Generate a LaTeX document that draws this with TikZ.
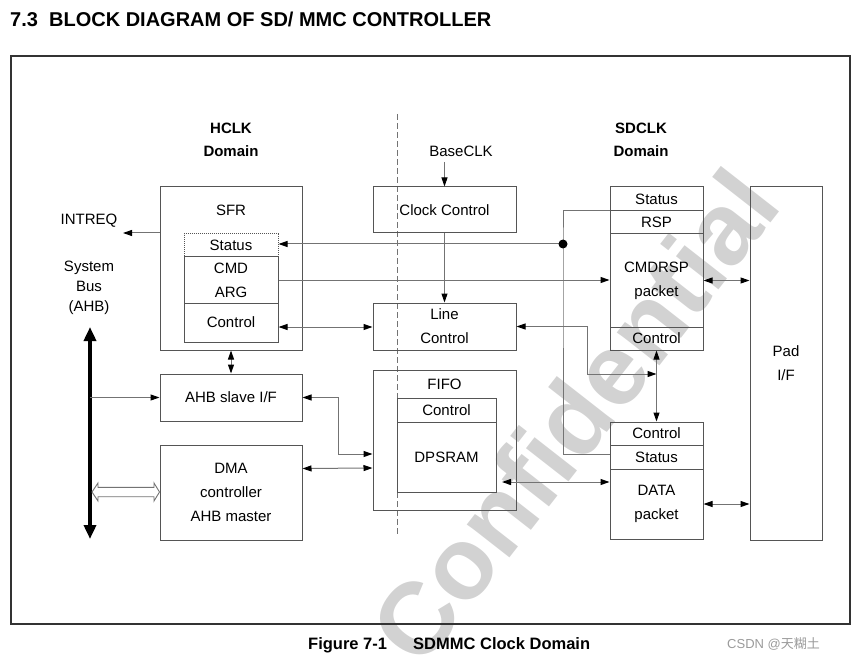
\documentclass[tikz,border=0pt]{standalone}
\usepackage{fontspec}
\setmainfont{Liberation Sans}
\newfontfamily\cjkfont{Noto Sans CJK SC}
\usetikzlibrary{arrows.meta,calc}
\definecolor{boxc}{HTML}{555555}
\definecolor{connc}{HTML}{737373}
\definecolor{wmark}{HTML}{D2D2D2}
\definecolor{csdn}{HTML}{9A9A9A}
\begin{document}
\begin{tikzpicture}[x=1pt,y=-1pt,
  >={Triangle[length=9pt,width=6pt,color=black]},
  box/.style={draw=boxc,line width=1pt,inner sep=0pt,align=center,font=\fontsize{15}{24}\selectfont},
  lbl/.style={inner sep=0pt,align=center,font=\fontsize{15}{24}\selectfont},
  hdr/.style={inner sep=0pt,align=center,font=\fontsize{15}{23}\selectfont\bfseries},
  conn/.style={draw=connc,line width=1pt},
  ]
\useasboundingbox (0,0) rectangle (856,660);

% watermark
\node[rotate=52,inner sep=0pt,text=wmark,font=\fontsize{102}{102}\selectfont\bfseries] (wm) at (574,416) {Confidential};

% title and caption
\node[anchor=base west,inner sep=0pt,font=\fontsize{20}{21}\selectfont\bfseries] (title) at (10,26.5) {7.3\ \ BLOCK DIAGRAM OF SD/ MMC CONTROLLER};
\node[anchor=base west,inner sep=0pt,font=\fontsize{16.5}{17}\selectfont\bfseries] (fig) at (308,649) {Figure 7-1};
\node[anchor=base west,inner sep=0pt,font=\fontsize{16.5}{17}\selectfont\bfseries] (cap) at (413,649) {SDMMC Clock Domain};
\node[anchor=base west,inner sep=0pt,text=csdn,font=\fontsize{13}{14}\selectfont] (csdn) at (727,648) {CSDN @{\cjkfont 天糊土}};

% frame
\node[draw=black!80,line width=1.2pt,minimum width=839pt,minimum height=568pt,inner sep=0pt] (frame) at (430.5,340) {};

% domain separator
\coordinate (dtop) at (397,114);
\coordinate (dbot) at (397,536);
\draw[connc,line width=0.9pt,dash pattern=on 6pt off 3pt] (dtop) -- (dbot);

% headers
\node[hdr] (hclk) at (231,139.5) {HCLK\\Domain};
\node[hdr] (sdclk) at (641,139.5) {SDCLK\\Domain};
\node[lbl] (baseclk) at (461,151) {BaseCLK};

% left labels
\node[lbl] (intreq) at (89,221) {INTREQ};
\node[inner sep=0pt,align=center,font=\fontsize{15}{20}\selectfont] (sysbus) at (89,288) {System\\Bus\\(AHB)};

% SFR
\node[box,minimum width=142pt,minimum height=163pt] (sfr) at (231,268.5) {};
\node[lbl] (sfrlbl) at (231,210) {SFR};
\node[box,densely dotted,minimum width=94pt,minimum height=23pt] (sfrstat) at (231,245.5) {Status};
\node[box,minimum width=94pt,minimum height=46pt] (sfrcmd) at (231,280) {CMD\\ARG};
\node[box,minimum width=94pt,minimum height=39pt] (sfrctl) at (231,322.5) {Control};

% AHB slave / DMA
\node[box,minimum width=142pt,minimum height=47pt] (ahb) at (231,397.5) {AHB slave I/F};
\node[box,minimum width=142pt,minimum height=95pt] (dma) at (231,492.5) {DMA\\controller\\AHB master};

% centre column
\node[box,minimum width=143pt,minimum height=46pt] (clk) at (444.5,210) {Clock Control};
\node[box,minimum width=143pt,minimum height=47pt] (line) at (444.5,326.5) {Line\\Control};
\node[box,minimum width=143pt,minimum height=140pt] (fifo) at (444.5,440) {};
\node[lbl] (fifolbl) at (444.5,384) {FIFO};
\node[box,minimum width=99pt,minimum height=24pt] (fifoctl) at (446.5,410) {Control};
\node[box,minimum width=99pt,minimum height=70pt] (dpsram) at (446.5,457) {DPSRAM};

% right column
\node[box,minimum width=93pt,minimum height=24pt] (cstat) at (656.5,199) {Status};
\node[box,minimum width=93pt,minimum height=23pt] (crsp) at (656.5,222.5) {RSP};
\node[box,minimum width=93pt,minimum height=93pt] (cpkt) at (656.5,280.5) {CMDRSP\\packet};
\node[box,minimum width=93pt,minimum height=23pt] (cctl) at (656.5,338.5) {Control};
\node[box,minimum width=93pt,minimum height=23pt] (dctl) at (656.5,433.5) {Control};
\node[box,minimum width=93pt,minimum height=24pt] (dstat) at (656.5,457) {Status};
\node[box,minimum width=93pt,minimum height=70pt] (dpkt) at (656.5,504) {DATA\\packet};
\node[box,minimum width=72pt,minimum height=353pt] (pad) at (786,363.5) {Pad\\I/F};

% system bus arrow
\coordinate (bustop) at (90,327);
\coordinate (busbot) at (90,539);
\draw[line width=3.5pt,{Triangle[length=14pt,width=12pt]}-{Triangle[length=14pt,width=12pt]}] (bustop) -- (busbot);

% connectors
\coordinate (intreqtip) at (123,233);
\draw[conn,->] (sfr.west |- intreqtip) -- (intreqtip);
\coordinate (baseclkfoot) at (444.5,162);
\draw[conn,->] (baseclkfoot) -- (clk.north);
\draw[conn,->] (clk.south) -- (line.north);

\coordinate (jn) at (563,244);
\draw[conn,->] (jn) -- (sfrstat.east |- jn);
\draw[conn] (crsp.north west) -| (jn) |- ($(dstat.west)+(0,-3)$);
\fill[black] (jn) circle (4.5pt);

\draw[conn,->] (sfrcmd.east) -- (cpkt.west |- sfrcmd.east);
\draw[conn,<->] (sfrctl.east |- 0,327) -- (line.west |- 0,327);

\coordinate (ctlj) at (656.5,374);
\draw[conn,<->] (line.east) -- ++(71,0) |- (ctlj);
\draw[conn,<->] (cctl.south) -- (dctl.north);

\draw[conn,<->] (sfr.south) -- (ahb.north);
\draw[conn,->] (bustop |- ahb.west) -- (ahb.west);

\draw[conn,<->] (ahb.east) -- ++(36,0) |- ($(fifo.west)+(0,14)$);
\draw[conn,<->] ($(dma.east)+(0,-24)$) -- ($(fifo.west)+(0,28)$);

\coordinate (dpin) at (502,482);
\draw[conn,<->] (dpin) -- (dpkt.west |- dpin);
\draw[conn,<->] (cpkt.east) -- (pad.west |- cpkt.east);
\draw[conn,<->] (dpkt.east) -- (pad.west |- dpkt.east);

% hollow bus-to-DMA arrow
\coordinate (hl) at (92,492);
\draw[connc,line width=0.9pt,fill=white] (hl) -- ++(6,-9) -- ++(0,4.3) -- (154,487.3) -- ++(0,-4.3) -- (dma.west |- hl) -- (154,501) -- ++(0,-4.3) -- (98,496.7) -- ++(0,4.3) -- cycle;
\end{tikzpicture}
\end{document}
